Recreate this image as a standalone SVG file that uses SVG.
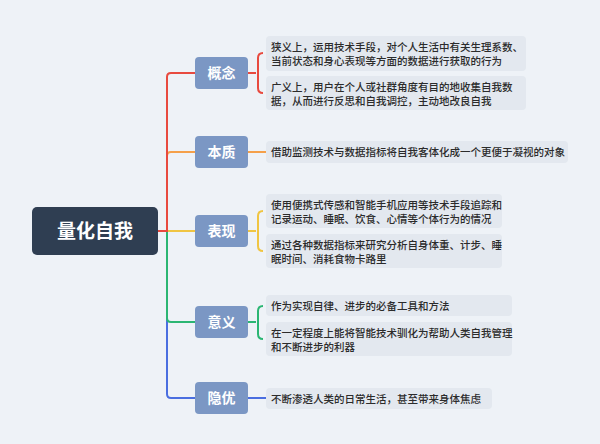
<svg xmlns="http://www.w3.org/2000/svg" width="600" height="444" viewBox="0 0 600 444">
<style>
text{font-family:"Noto Sans CJK SC","Noto Sans",sans-serif}
.b rect{fill:#7b97c4}
.b text{fill:#fff;font-size:14px;font-weight:bold;text-anchor:middle}
.l rect{fill:#e3e8ef}
.l text{fill:#2b2b2b;font-size:10.5px;font-weight:500}
.c path{fill:none;stroke-width:2}
</style>
<rect width="600" height="444" fill="#eef2f7"/>
<g class="c" id="connectors">
<path d="M158 231H167V394Q167 398 171 398H195" stroke="#4a6ee0"/>
<path d="M158 231H167V318Q167 322 171 322H195" stroke="#2bb673"/>
<path d="M158 231H195" stroke="#f0c542"/>
<path d="M158 231H167V156Q167 152 171 152H195" stroke="#f5a04a"/>
<path d="M158 231H167V77Q167 73 171 73H195" stroke="#e84a3f"/>
<path d="M248 73H256M263 53Q258 53 258 58V88Q258 93 263 93" stroke="#e84a3f"/>
<path d="M248 152H267" stroke="#f5a04a"/>
<path d="M248 231H256M263 211Q258 211 258 216V246Q258 251 263 251" stroke="#f0c542"/>
<path d="M248 322H256M263 306Q258 306 258 311V334Q258 339 263 339" stroke="#2bb673"/>
<path d="M248 398H267" stroke="#4a6ee0"/>
</g>
<g id="root"><rect x="32" y="207" width="126" height="48" rx="5" fill="#2f3e52"/><text x="95" y="238" fill="#fff" font-size="19" font-weight="bold" text-anchor="middle">量化自我</text></g>
<g class="b" id="n1"><rect x="195" y="57" width="53" height="32" rx="4"/><text x="221.5" y="78">概念</text></g>
<g class="b" id="n2"><rect x="195" y="136" width="53" height="32" rx="4"/><text x="221.5" y="157">本质</text></g>
<g class="b" id="n3"><rect x="195" y="215" width="53" height="32" rx="4"/><text x="221.5" y="236">表现</text></g>
<g class="b" id="n4"><rect x="195" y="306" width="53" height="32" rx="4"/><text x="221.5" y="327">意义</text></g>
<g class="b" id="n5"><rect x="195" y="382" width="53" height="32" rx="4"/><text x="221.5" y="403">隐优</text></g>
<g class="l" id="l1a"><rect x="266" y="36" width="260" height="35" rx="4"/><text x="271" y="51">狭义上，运用技术手段，对个人生活中有关生理系数、</text><text x="271" y="65">当前状态和身心表现等方面的数据进行获取的行为</text></g>
<g class="l" id="l1b"><rect x="266" y="76" width="260" height="34" rx="4"/><text x="271" y="91">广义上，用户在个人或社群角度有目的地收集自我数</text><text x="271" y="105">据，从而进行反思和自我调控，主动地改良自我</text></g>
<g class="l" id="l2"><rect x="266" y="141" width="302" height="22" rx="4"/><text x="271" y="156">借助监测技术与数据指标将自我客体化成一个更便于凝视的对象</text></g>
<g class="l" id="l3a"><rect x="266" y="194" width="236" height="34" rx="4"/><text x="271" y="209">使用便携式传感和智能手机应用等技术手段追踪和</text><text x="271" y="223">记录运动、睡眠、饮食、心情等个体行为的情况</text></g>
<g class="l" id="l3b"><rect x="266" y="234" width="236" height="34" rx="4"/><text x="271" y="249">通过各种数据指标来研究分析自身体重、计步、睡</text><text x="271" y="263">眠时间、消耗食物卡路里</text></g>
<g class="l" id="l4a"><rect x="266" y="295" width="246" height="21" rx="4"/><text x="271" y="310">作为实现自律、进步的必备工具和方法</text></g>
<g class="l" id="l4b"><rect x="266" y="322" width="246" height="34" rx="4"/><text x="271" y="337">在一定程度上能将智能技术驯化为帮助人类自我管理</text><text x="271" y="351">和不断进步的利器</text></g>
<g class="l" id="l5"><rect x="266" y="388" width="226" height="21" rx="4"/><text x="271" y="403">不断渗透人类的日常生活，甚至带来身体焦虑</text></g>
</svg>
